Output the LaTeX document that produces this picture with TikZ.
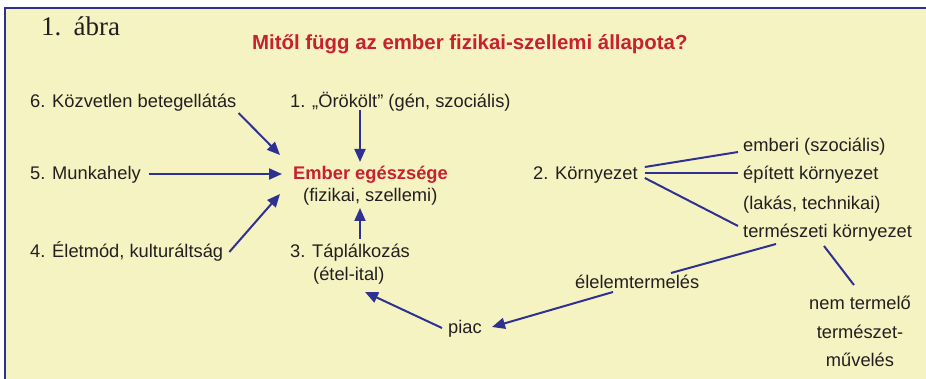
\documentclass[tikz,border=0pt]{standalone}
\usepackage{fontspec}
\setmainfont{Liberation Sans}
\newfontfamily\serifhead{Liberation Serif}
\usetikzlibrary{arrows.meta,calc}
\definecolor{bgyellow}{HTML}{F6F3C2}
\definecolor{frameblue}{HTML}{2E3192}
\definecolor{titlered}{HTML}{C8202F}
\definecolor{textdark}{HTML}{231F20}
\tikzset{
  lbl/.style={inner sep=0pt, anchor=base west, text=textdark, font=\fontsize{18.3}{20}\selectfont},
  redlbl/.style={lbl, text=titlered, font=\fontsize{18.3}{20}\selectfont\bfseries},
  ctr/.style={lbl, anchor=base},
  arr/.style={draw=frameblue, line width=2pt, -{Triangle[length=13pt,width=11pt]}},
  link/.style={draw=frameblue, line width=2pt},
}
\begin{document}
\begin{tikzpicture}[x=1pt,y=-1pt]
\useasboundingbox (0,0) rectangle (926,379);
\fill[white] (0,0) rectangle (926,379);
\filldraw[fill=bgyellow, draw=frameblue, line width=2.2pt] (5,8) rectangle (940,395);
% texts
\node[lbl, font=\serifhead\fontsize{27}{29}\selectfont] (fig) at (41,36) {1.\hspace{0.45em}ábra};
\node[redlbl, font=\fontsize{20.4}{22}\selectfont\bfseries] (title) at (252,50) {Mitől függ az ember fizikai-szellemi állapota?};
\node[lbl] (n6) at (30,108) {6. Közvetlen betegellátás};
\node[lbl] (n1) at (290,108) {1. „Örökölt” (gén, szociális)};
\node[redlbl] (ember) at (293,180) {Ember egészsége};
\node[lbl] (fiz) at (303,202) {(fizikai, szellemi)};
\node[lbl] (n5) at (30,180) {5. Munkahely};
\node[lbl] (n4) at (30,258) {4. Életmód, kulturáltság};
\node[lbl] (n3) at (290,258) {3. Táplálkozás};
\node[lbl] (etel) at (313,281) {(étel-ital)};
\node[lbl] (korny) at (533,180) {2. Környezet};
\node[lbl] (emberi) at (743,152) {emberi (szociális)};
\node[lbl] (epitett) at (743,180) {épített környezet};
\node[lbl] (lakas) at (743,210) {(lakás, technikai)};
\node[lbl] (term) at (743,238) {természeti környezet};
\node[lbl] (elelem) at (575,289) {élelemtermelés};
\node[lbl] (piac) at (448,333) {piac};
\node[ctr] (nem) at (860,309) {nem termelő};
\node[ctr] (termm) at (860,338) {természet-};
\node[ctr] (muv) at (860,366) {művelés};
% arrows
\draw[arr] ($(n6.base east)+(2,5)$) -- ($(ember.base west)+(-13,-25)$);
\draw[arr] ($(n1.base west)+(70,2)$) -- ($(ember.base west)+(67,-18)$);
\draw[arr] ($(n5.base east)+(8,-6)$) -- ($(ember.base west)+(-11,-6)$);
\draw[arr] ($(n4.base east)+(6,-6)$) -- ($(ember.base west)+(-13,14)$);
\draw[arr] ($(n3.base west)+(70,-19)$) -- ($(fiz.base west)+(57,6)$);
\draw[arr] ($(piac.base west)+(-6,-5)$) -- ($(etel.base west)+(52,11)$);
\draw[arr] ($(elelem.base west)+(38,3)$) -- ($(piac.base east)+(10,-6)$);
% links
\draw[link] ($(korny.base east)+(7,-13)$) -- ($(emberi.base west)+(-5,0)$);
\draw[link] ($(korny.base east)+(7,-7)$) -- ($(epitett.base west)+(-5,-7)$);
\draw[link] ($(korny.base east)+(7,-2)$) -- ($(term.base west)+(-5,-12)$);
\draw[link] ($(term.base west)+(33,6)$) -- ($(elelem.base west)+(96,-16)$);
\draw[link] ($(term.base west)+(81,8)$) -- ($(nem.base west)+(45,-24)$);
\end{tikzpicture}
\end{document}
